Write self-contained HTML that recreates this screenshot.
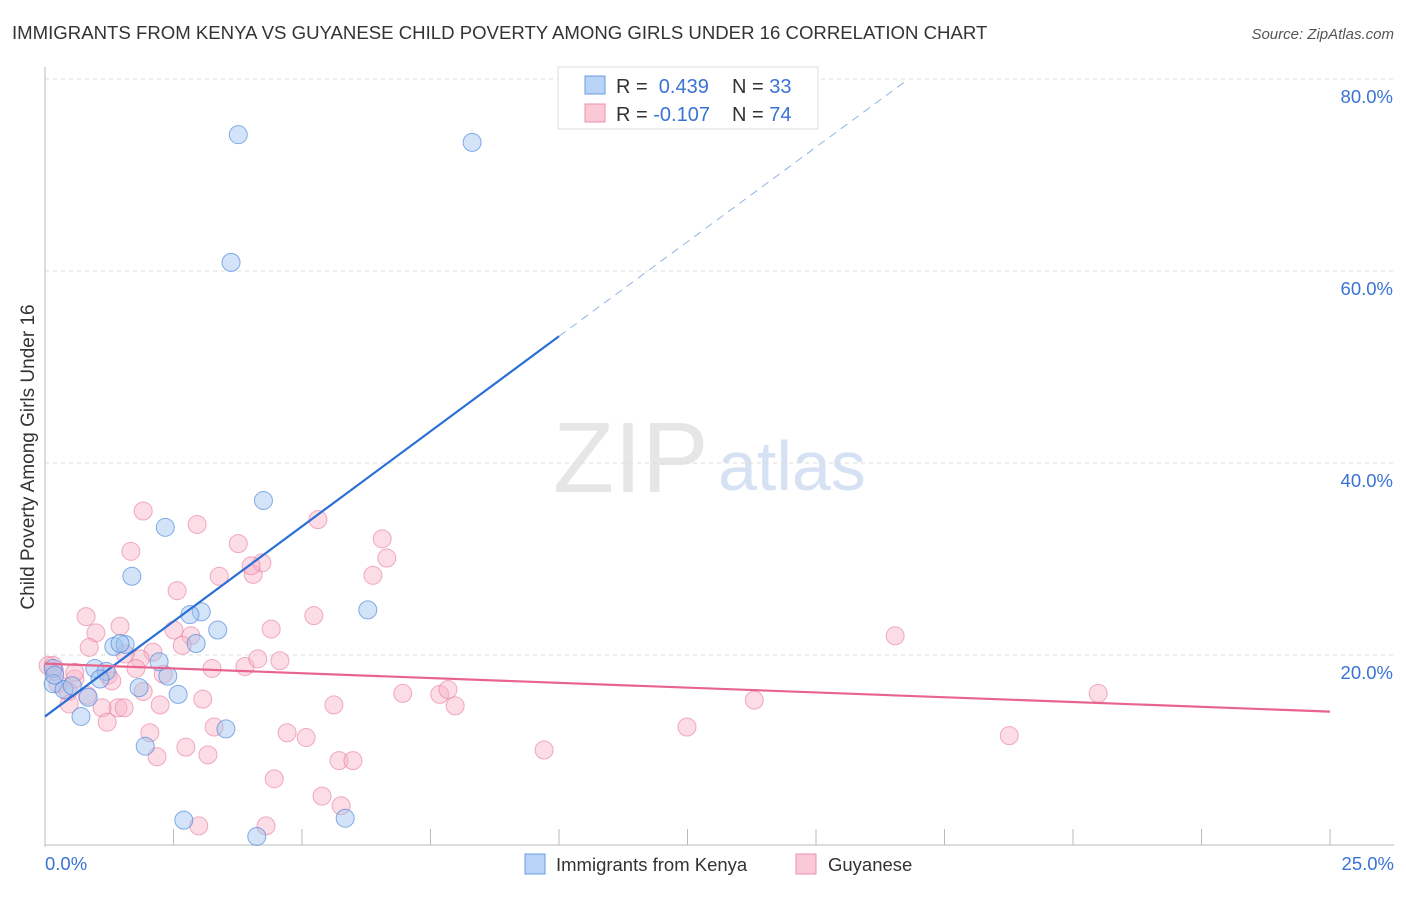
<!DOCTYPE html>
<html><head><meta charset="utf-8"><style>
body{margin:0;background:#fff;font-family:"Liberation Sans",sans-serif}
svg text{font-family:"Liberation Sans",sans-serif}
</style></head><body>
<svg id="c" width="1406" height="892" xmlns="http://www.w3.org/2000/svg">
<text x="12" y="39" font-size="18.6" fill="#333">IMMIGRANTS FROM KENYA VS GUYANESE CHILD POVERTY AMONG GIRLS UNDER 16 CORRELATION CHART</text>
<text x="1394" y="39" font-size="15" fill="#555" text-anchor="end" font-style="italic">Source: ZipAtlas.com</text>
<text x="553" y="492" font-size="100" fill="#e6e6e6" font-family="Liberation Serif">ZIP</text>
<text x="718" y="490" font-size="70" fill="#d6e2f3">atlas</text>
<g id="grid"></g>
<g id="axes"></g>
<g id="marks"></g>
<text transform="translate(34,457) rotate(-90)" font-size="19" fill="#333" text-anchor="middle">Child Poverty Among Girls Under 16</text>
<g>
<rect x="558" y="67" width="260" height="62" fill="#fff" stroke="#ddd"/>
<rect x="585" y="76" width="20" height="18" fill="#b8d3f5" stroke="#6a9be0"/>
<rect x="585" y="104" width="20" height="18" fill="#fbc8d6" stroke="#ec8fa9"/>
<text x="616" y="93" font-size="20" fill="#333">R = <tspan fill="#3a73d6">&#160;0.439</tspan><tspan x="732">N = </tspan><tspan fill="#3a73d6">33</tspan></text>
<text x="616" y="121" font-size="20" fill="#333">R = <tspan fill="#3a73d6">-0.107</tspan><tspan x="732">N = </tspan><tspan fill="#3a73d6">74</tspan></text>
</g>
<g>
<rect x="525" y="854" width="20" height="20" fill="#b8d3f5" stroke="#6a9be0"/>
<text x="556" y="871" font-size="18.5" fill="#333">Immigrants from Kenya</text>
<rect x="796" y="854" width="20" height="20" fill="#fbc8d6" stroke="#ec8fa9"/>
<text x="828" y="871" font-size="18.5" fill="#333">Guyanese</text>
</g>
</svg>
<script>
const yTicks=[20,40,60,80];
const xTickLabels=["0.0%","25.0%"];
const blueX=[3.76,8.31,3.62,4.25,2.34,1.69,6.28,3.04,2.82,3.36,2.94,1.34,1.56,1.46,2.22,0.97,1.19,0.16,0.16,1.07,0.37,0.84,1.83,2.39,2.59,0.70,1.95,3.52,2.70,4.12,5.84,0.19,0.53];
const blueY=[74.2,73.4,60.9,36.1,33.3,28.2,24.7,24.5,24.2,22.6,21.2,20.9,21.1,21.2,19.3,18.6,18.3,18.6,17.0,17.5,16.4,15.6,16.6,17.8,15.9,13.6,10.5,12.3,2.8,1.1,3.0,17.9,16.8];
const pinkX=[1.91,2.96,5.31,1.67,3.76,6.56,6.65,3.39,2.57,4.05,4.22,4.01,6.38,0.80,0.99,0.86,1.46,2.51,2.84,2.67,5.23,4.40,16.54,2.10,1.85,1.56,1.23,1.77,2.30,3.25,3.89,4.14,4.57,6.96,7.68,7.84,13.80,20.49,0.58,0.25,0.06,0.19,0.45,0.82,1.30,1.91,3.07,1.42,1.11,1.54,2.24,5.62,7.98,0.47,1.21,3.29,4.71,5.08,12.49,18.76,2.04,2.74,2.18,3.17,9.71,5.72,5.99,4.46,5.39,5.76,2.99,4.30,0.16,0.58];
const pinkY=[35.0,33.6,34.1,30.8,31.6,32.1,30.1,28.2,26.7,28.4,29.6,29.3,28.3,24.0,22.3,20.8,23.0,22.6,22.0,21.0,24.1,22.7,22.0,20.3,19.6,20.1,17.9,18.6,18.0,18.6,18.8,19.6,19.4,16.0,15.9,16.4,15.3,16.0,17.5,17.0,18.9,18.3,16.2,15.8,17.3,16.2,15.4,14.5,14.5,14.5,14.8,14.8,14.7,14.9,13.0,12.5,11.9,11.4,12.5,11.6,11.9,10.4,9.4,9.6,10.1,9.0,9.0,7.1,5.3,4.3,2.2,2.2,18.9,18.2];
const blueTrend=[0,13.6,10,53.2];
const blueDash=[10,53.2,16.8,80];
const pinkTrend=[0,19.1,25,14.1];
const L=45,R=1330,B=847,T=79;
const xs=v=>L+v/25*(R-L);
const ys=v=>B-v/80*(B-T);
const NS="http://www.w3.org/2000/svg";
function mk(p,tag,a){const e=document.createElementNS(NS,tag);for(const k in a)e.setAttribute(k,a[k]);p.appendChild(e);return e;}
const g=document.getElementById('grid'),ax=document.getElementById('axes'),m=document.getElementById('marks');
yTicks.forEach(t=>{
 const l=mk(g,'line',{x1:L,x2:1394,y1:ys(t),y2:ys(t),stroke:'#ddd','stroke-dasharray':'4,4'});
 
 
 const tx=mk(g,'text',{x:1393,y:ys(t)+24,'font-size':18.5,fill:'#3a73d6','text-anchor':'end'});
 tx.textContent=t.toFixed(1)+'%';
 
 
});
const ya=mk(ax,'line',{x1:L,x2:L,y1:67,y2:B,stroke:'#bbb'});


const xa=mk(ax,'line',{x1:L,x2:1394,y1:B-2,y2:B-2,stroke:'#bbb'});


for(let i=1;i<=10;i++){const v=i*2.5;const t=mk(ax,'line',{x1:xs(v),x2:xs(v),y1:B-2,y2:B-18,stroke:'#bbb'});
 
 }
const xl0=mk(ax,'text',{x:45,y:870,'font-size':18.5,fill:'#3a73d6'});xl0.textContent=xTickLabels[0];


const xl1=mk(ax,'text',{x:1394,y:870,'font-size':18.5,fill:'#3a73d6','text-anchor':'end'});xl1.textContent=xTickLabels[1];


pinkX.forEach((x,i)=>{const c=mk(m,'circle',{cx:xs(x),cy:ys(pinkY[i]),r:9,fill:'rgba(248,180,200,0.45)',stroke:'rgba(232,120,155,0.6)'});
 
 });
blueX.forEach((x,i)=>{const c=mk(m,'circle',{cx:xs(x),cy:ys(blueY[i]),r:9,fill:'rgba(160,196,240,0.45)',stroke:'rgba(70,130,220,0.65)'});
 
 });
const bt=mk(m,'line',{x1:xs(blueTrend[0]),y1:ys(blueTrend[1]),x2:xs(blueTrend[2]),y2:ys(blueTrend[3]),stroke:'#2a6fd6','stroke-width':2.2});


const bd=mk(m,'line',{x1:xs(blueDash[0]),y1:ys(blueDash[1]),x2:xs(blueDash[2]),y2:ys(blueDash[3]),stroke:'#8fb3e6','stroke-width':1,'stroke-dasharray':'8,6'});


const pt=mk(m,'line',{x1:xs(pinkTrend[0]),y1:ys(pinkTrend[1]),x2:xs(pinkTrend[2]),y2:ys(pinkTrend[3]),stroke:'#e8648e','stroke-width':2.2});


</script>
</body></html>
